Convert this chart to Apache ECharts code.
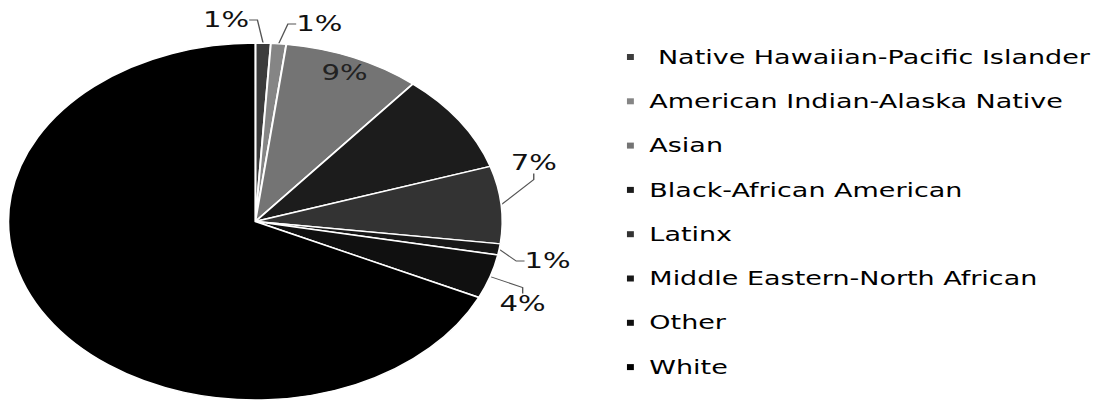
<!DOCTYPE html>
<html>
<head>
<meta charset="utf-8">
<script src="https://cdn.jsdelivr.net/npm/echarts@6/dist/echarts.min.js"></script>
<style>
  html, body { margin: 0; padding: 0; background: #fff; overflow: hidden; width: 1103px; height: 402px; }
  #chart { width: 797px; height: 402px; transform: scaleX(1.384); transform-origin: 0 0; }
</style>
</head>
<body>
<div id="chart"></div>
<script>
// ---- data ----
const categories = [
  'Native Hawaiian-Pacific Islander',
  'American Indian-Alaska Native',
  'Asian',
  'Black-African American',
  'Latinx',
  'Middle Eastern-North African',
  'Other',
  'White'
];
const percents = [1, 1, 9, 9, 7, 1, 4, 68];
const labelShown = [true, true, true, false, true, true, true, false];
const labelInside = [false, false, true, false, false, false, false, false];

// ---- style / layout ----
const colors = ['#3c3c3c', '#858585', '#747474', '#1c1c1c', '#333333', '#181818', '#101010', '#000000'];
const CENTER = [184.5, 221.5];
const RADIUS = 178.5;
const FONT = 'DejaVu Sans, Verdana, sans-serif';
// where the outside labels sit (unscaled px: left x, middle y, alignment)
const labelSpot = [
  [180, 20, 'right'],
  [214, 24, 'left'],
  null,
  null,
  [369, 163, 'left'],
  [379, 261, 'left'],
  [361, 304, 'left'],
  null
];

const chart = echarts.init(document.getElementById('chart'), null, { renderer: 'svg' });

const data = categories.map((name, i) => ({
  name: name,
  value: percents[i],
  label: labelInside[i]
    ? { show: true, position: 'inside', color: '#222' }
    : { show: labelShown[i], position: 'outside' },
  labelLine: { show: labelShown[i] && !labelInside[i] }
}));

chart.setOption({
  animation: false,
  color: colors,
  legend: {
    orient: 'vertical',
    left: 453,
    top: 47,
    itemWidth: 5,
    itemHeight: 6,
    itemGap: 24.3,
    icon: 'rect',
    padding: 0,
    itemStyle: { borderWidth: 0 },
    formatter: function (name) { return name === categories[0] ? '  ' + name : ' ' + name; },
    textStyle: { fontFamily: FONT, fontSize: 19.5, lineHeight: 20, color: '#000' },
    data: categories
  },
  series: [{
    type: 'pie',
    center: CENTER,
    radius: RADIUS,
    startAngle: 90,
    clockwise: true,
    avoidLabelOverlap: false,
    itemStyle: { borderColor: '#fff', borderWidth: 1.4 },
    label: {
      fontFamily: FONT,
      fontSize: 21,
      color: '#111',
      formatter: '{c}%'
    },
    labelLine: { length: 12, length2: 6, lineStyle: { color: '#555', width: 1 } },
    labelLayout: function (p) {
      const i = p.dataIndex;
      if (labelInside[i]) {
        const cx = p.labelRect.x + p.labelRect.width / 2;
        const cy = p.labelRect.y + p.labelRect.height / 2;
        const k = 1.76;
        return {
          x: CENTER[0] + (cx - CENTER[0]) * k,
          y: CENTER[1] + (cy - CENTER[1]) * k,
          align: 'center',
          verticalAlign: 'middle'
        };
      }
      const s = labelSpot[i];
      if (!s) return {};
      return { x: s[0], y: s[1], align: s[2], verticalAlign: 'middle' };
    },
    data: data
  }]
});
</script>
</body>
</html>
